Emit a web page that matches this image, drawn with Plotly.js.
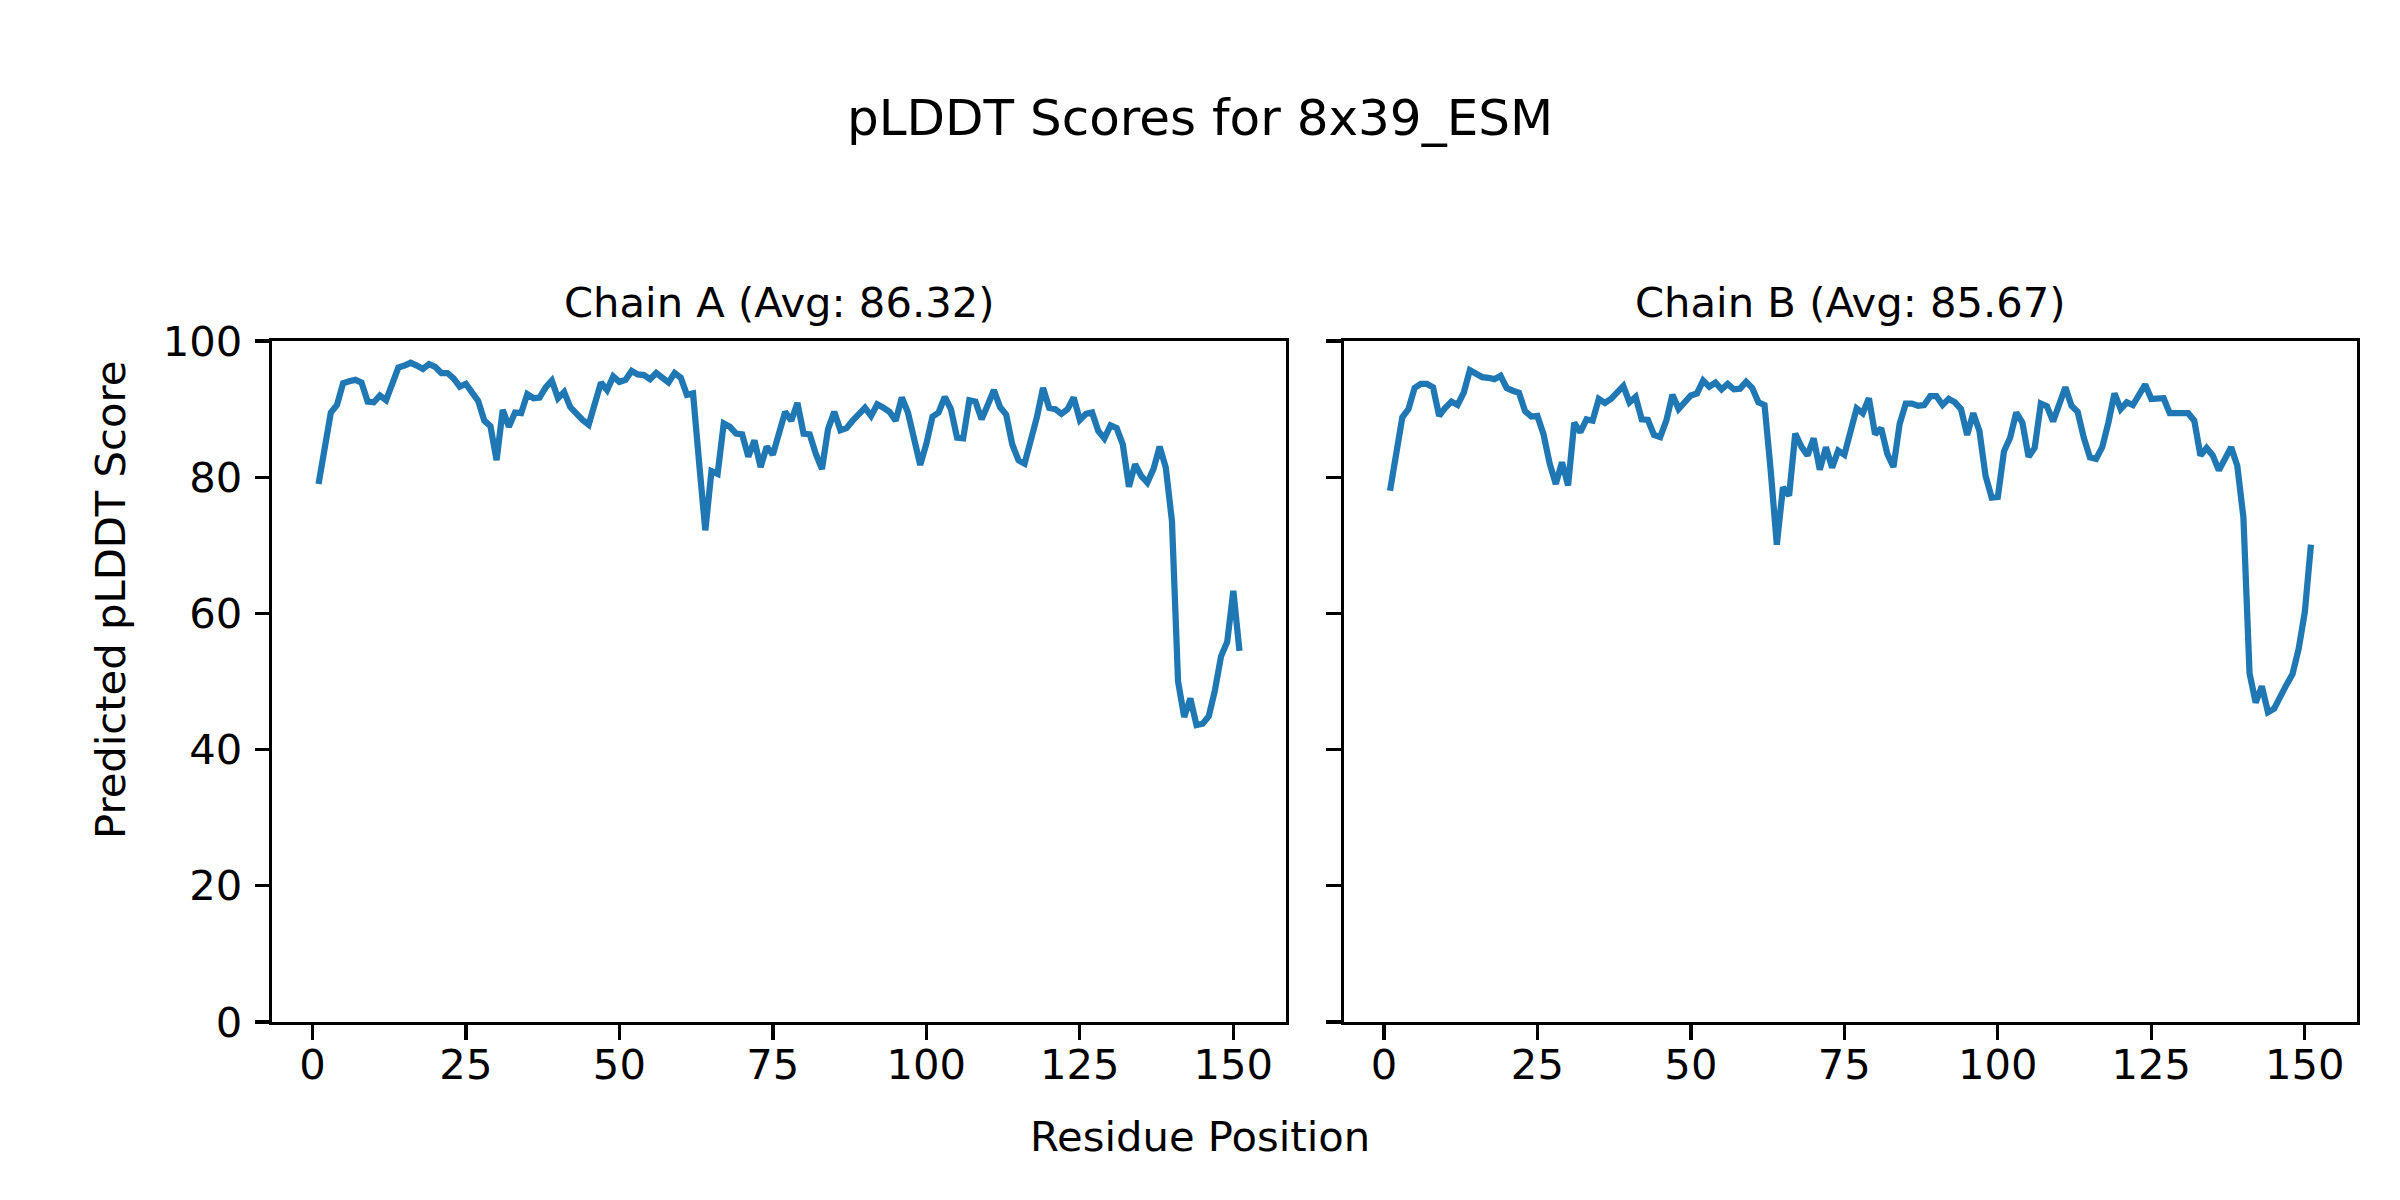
<!DOCTYPE html>
<html>
<head>
<meta charset="utf-8">
<script src="https://cdn.plot.ly/plotly-3.0.1.min.js"></script>
<style>html,body{margin:0;padding:0;background:#fff;}#chart{width:2400px;height:1200px;}</style>
</head>
<body>
<div id="chart"></div>
<script>
const chainA = [79.0,84.2,89.5,90.6,93.8,94.1,94.3,93.9,91.1,91.0,
92.0,91.3,93.5,96.1,96.4,96.8,96.4,95.9,96.6,96.2,
95.3,95.3,94.5,93.3,93.7,92.6,91.2,88.3,87.5,82.5,
89.9,87.4,89.5,89.4,92.2,91.6,91.7,93.2,94.2,91.6,
92.5,90.3,89.3,88.4,87.7,90.7,93.9,92.8,94.8,94.0,
94.3,95.6,95.1,95.0,94.4,95.3,94.5,93.9,95.3,94.6,
92.1,92.3,82.0,72.2,80.9,80.5,87.9,87.4,86.4,86.3,
83.0,85.4,81.5,84.5,83.3,86.8,89.6,88.3,90.9,86.4,
86.3,83.4,81.2,87.1,89.6,86.9,87.2,88.3,89.3,90.2,
89.0,90.7,90.2,89.6,88.3,91.7,89.5,85.6,81.8,84.9,
88.9,89.5,91.8,90.0,85.8,85.7,91.3,91.1,88.5,90.6,
92.8,90.3,89.2,84.8,82.5,82.0,85.4,88.8,93.1,90.2,
90.0,89.3,90.0,91.7,88.4,89.3,89.5,86.8,85.7,87.6,
87.2,84.8,78.6,81.9,80.2,79.2,81.2,84.5,81.4,73.6,
50.0,44.8,47.5,43.6,43.8,44.9,48.7,53.7,55.8,63.3,
54.5];
const chainB = [78.0,83.4,88.8,90.0,93.1,93.7,93.7,93.2,89.0,90.2,
91.1,90.6,92.4,95.7,95.3,94.7,94.6,94.4,94.9,93.1,
92.7,92.4,89.7,88.9,89.0,86.3,82.0,79.0,82.2,78.8,
88.0,86.6,88.5,88.3,91.5,90.9,91.5,92.6,93.4,91.0,
91.8,88.5,88.4,86.2,85.9,88.3,92.1,90.0,91.0,92.0,
92.3,94.2,93.3,93.9,92.9,93.7,92.9,93.0,94.0,93.1,
91.0,90.6,81.0,70.1,78.5,77.3,86.4,84.5,83.2,85.7,
81.1,84.4,81.4,83.9,83.3,87.1,90.1,89.4,91.6,86.3,
87.2,83.4,81.5,87.8,90.8,90.8,90.5,90.6,91.9,91.9,
90.6,91.5,91.0,90.0,86.2,89.4,86.8,80.2,77.0,77.1,
83.8,85.8,89.5,88.0,83.0,84.3,90.8,90.4,88.2,90.7,
93.2,90.5,89.6,85.8,82.9,82.7,84.4,88.0,92.3,90.0,
91.0,90.6,92.1,93.6,91.5,91.6,91.6,89.4,89.4,89.4,
89.4,88.3,83.2,84.3,83.2,81.0,82.9,84.4,81.7,74.1,
51.2,46.9,49.3,45.5,46.0,48.0,49.5,51.1,54.8,60.2,
70.1];
const chainNames = ["Chain A (Avg: 86.32)", "Chain B (Avg: 85.67)"];
const figTitle = "pLDDT Scores for 8x39_ESM";
const xLabel = "Residue Position";
const yLabel = "Predicted pLDDT Score";
const xTicks = [0, 25, 50, 75, 100, 125, 150];
const yTicks = [0, 20, 40, 60, 80, 100];

const resA = chainA.map((_, i) => i + 1);
const resB = chainB.map((_, i) => i + 1);

const FONT = "DejaVu Sans, Liberation Sans, sans-serif";
const lineStyle = {color: "#1f77b4", width: 6.25};

const traces = [
  {x: resA, y: chainA, type: "scatter", mode: "lines", line: lineStyle, xaxis: "x", yaxis: "y", hoverinfo: "skip"},
  {x: resB, y: chainB, type: "scatter", mode: "lines", line: lineStyle, xaxis: "x2", yaxis: "y2", hoverinfo: "skip"}
];

const axBase = {
  showgrid: false, zeroline: false, showline: true, mirror: true,
  linecolor: "#000", linewidth: 3.3,
  ticks: "outside", ticklen: 14.6, tickwidth: 3.3, tickcolor: "#000",
  tickfont: {family: FONT, size: 41.7, color: "#000"},
  fixedrange: true
};

const xDomA = [0.11354, 0.53563];
const xDomB = [0.56, 0.98208];
const yDom = [0.14833, 0.71583];

const layout = {
  width: 2400, height: 1200,
  margin: {l: 0, r: 0, t: 0, b: 0, pad: 0},
  paper_bgcolor: "#fff", plot_bgcolor: "#fff",
  showlegend: false,
  font: {family: FONT, color: "#000"},
  xaxis: Object.assign({}, axBase, {domain: xDomA, range: [-6.5, 158.5], tickvals: xTicks, anchor: "y", ticklabelstandoff: -11}),
  yaxis: Object.assign({}, axBase, {domain: yDom, range: [0, 100], tickvals: yTicks, anchor: "x", ticklabelstandoff: 4}),
  xaxis2: Object.assign({}, axBase, {domain: xDomB, range: [-6.5, 158.5], tickvals: xTicks, anchor: "y2", ticklabelstandoff: -11}),
  yaxis2: Object.assign({}, axBase, {domain: yDom, range: [0, 100], tickvals: yTicks, anchor: "x2", showticklabels: false}),
  annotations: [
    {text: figTitle, xref: "paper", yref: "paper", x: 0.5, y: 1 - 118/1200, xanchor: "center", yanchor: "middle", showarrow: false, font: {family: FONT, size: 50, color: "#000"}},
    {text: chainNames[0], xref: "paper", yref: "paper", x: (xDomA[0] + xDomA[1]) / 2, y: 1 - 303/1200, xanchor: "center", yanchor: "middle", showarrow: false, font: {family: FONT, size: 41.7, color: "#000"}},
    {text: chainNames[1], xref: "paper", yref: "paper", x: (xDomB[0] + xDomB[1]) / 2, y: 1 - 303/1200, xanchor: "center", yanchor: "middle", showarrow: false, font: {family: FONT, size: 41.7, color: "#000"}},
    {text: xLabel, xref: "paper", yref: "paper", x: 0.5, y: 1 - 1136/1200, xanchor: "center", yanchor: "middle", showarrow: false, font: {family: FONT, size: 41.7, color: "#000"}},
    {text: yLabel, xref: "paper", yref: "paper", x: 110/2400, y: 0.5, xanchor: "center", yanchor: "middle", textangle: -90, showarrow: false, font: {family: FONT, size: 41.7, color: "#000"}}
  ]
};

Plotly.newPlot("chart", traces, layout, {staticPlot: true, displayModeBar: false});
</script>
</body>
</html>
